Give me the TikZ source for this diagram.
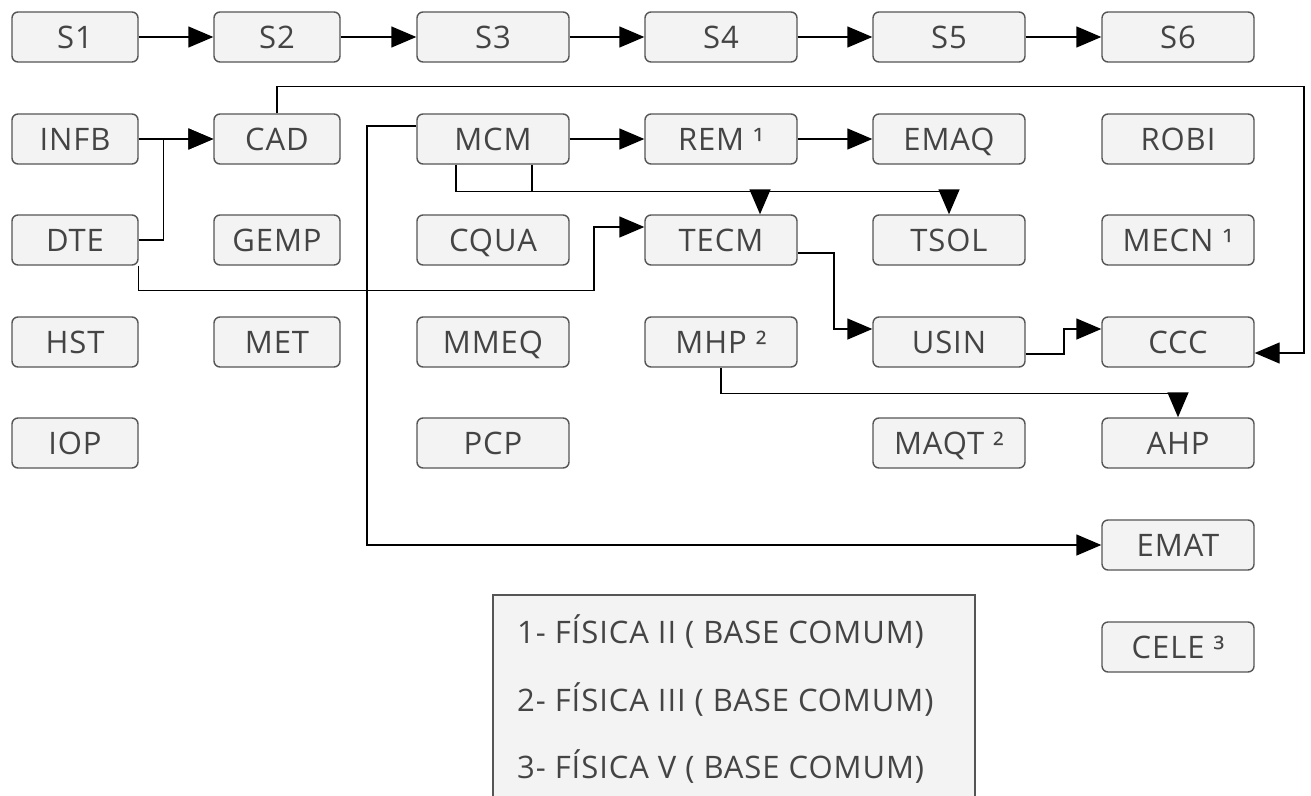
\documentclass[tikz,border=0pt]{standalone}
\usepackage{fontspec}
\setmainfont{Open Sans}[LetterSpace=3]
\usetikzlibrary{arrows.meta}
\definecolor{boxfill}{HTML}{F3F3F3}
\definecolor{boxline}{HTML}{555555}
\definecolor{txt}{HTML}{444444}
\tikzset{
  box/.style={draw=boxline, fill=boxfill, rounded corners=6pt, line width=1.4pt,
    minimum height=50pt, inner sep=0pt, text=txt, text height=22pt, text depth=0pt,
    font=\fontsize{31}{36}\selectfont},
  nar/.style={box, minimum width=126pt},
  wid/.style={box, minimum width=152pt},
  arr/.style={line width=1.4pt, draw=black, -{Triangle[length=25pt,width=21pt]}},
  legtext/.style={anchor=west, inner sep=0pt, text=txt, text height=22pt, text depth=0pt,
    font=\fontsize{31}{36}\selectfont}
}
\begin{document}
\begin{tikzpicture}[x=1pt,y=-1pt]
\useasboundingbox[fill=white] (0,0) rectangle (1311,795);
% row 1
\node[nar] (S1) at (75,37) {S1};
\node[nar] (S2) at (277,37) {S2};
\node[wid] (S3) at (493,37) {S3};
\node[wid] (S4) at (721,37) {S4};
\node[wid] (S5) at (949,37) {S5};
\node[wid] (S6) at (1178,37) {S6};
% row 2
\node[nar] (INFB) at (75,139) {INFB};
\node[nar] (CAD) at (277,139) {CAD};
\node[wid] (MCM) at (493,139) {MCM};
\node[wid] (REM) at (721,139) {REM ¹};
\node[wid] (EMAQ) at (949,139) {EMAQ};
\node[wid] (ROBI) at (1178,139) {ROBI};
% row 3
\node[nar] (DTE) at (75,240) {DTE};
\node[nar] (GEMP) at (277,240) {GEMP};
\node[wid] (CQUA) at (493,240) {CQUA};
\node[wid] (TECM) at (721,240) {TECM};
\node[wid] (TSOL) at (949,240) {TSOL};
\node[wid] (MECN) at (1178,240) {MECN ¹};
% row 4
\node[nar] (HST) at (75,342) {HST};
\node[nar] (MET) at (277,342) {MET};
\node[wid] (MMEQ) at (493,342) {MMEQ};
\node[wid] (MHP) at (721,342) {MHP ²};
\node[wid] (USIN) at (949,342) {USIN};
\node[wid] (CCC) at (1178,342) {CCC};
% row 5
\node[nar] (IOP) at (75,443) {IOP};
\node[wid] (PCP) at (493,443) {PCP};
\node[wid] (MAQT) at (949,443) {MAQT ²};
\node[wid] (AHP) at (1178,443) {AHP};
% rows 6,7
\node[wid] (EMAT) at (1178,545) {EMAT};
\node[wid] (CELE) at (1178,647) {CELE ³};
% legend
\fill[boxfill] (493,595) rectangle (975,800);
\draw[boxline, line width=1.4pt] (493,800) -- (493,595) -- (975,595) -- (975,800);
\node[legtext] (L1) at (517,632) {1- FÍSICA II ( BASE COMUM)};
\node[legtext] (L2) at (517,700) {2- FÍSICA III ( BASE COMUM)};
\node[legtext] (L3) at (517,767) {3- FÍSICA V ( BASE COMUM)};
% connectors
\draw[arr] (S1) -- (S2);
\draw[arr] (S2) -- (S3);
\draw[arr] (S3) -- (S4);
\draw[arr] (S4) -- (S5);
\draw[arr] (S5) -- (S6);
\draw[arr] (INFB) -- (CAD);
\draw[arr] (DTE.east) -- ++(25,0) |- (CAD.west);
\draw[arr] (DTE.south east) -- ++(0,25) -| (594,227) -- ([yshift=13pt]TECM.west);
\draw[arr] (CAD.north) -- ++(0,-27) -| (1304,353) -- ([yshift=-11pt]CCC.east);
\draw[arr] ([yshift=13pt]MCM.west) -- (367,126) |- (EMAT.west);
\draw[arr] (MCM) -- (REM);
\draw[arr] (REM) -- (EMAQ);
\draw[arr] ([xshift=-37pt]MCM.south) -- ++(0,27) -| ([xshift=39pt]TECM.north);
\draw[arr] ([xshift=39pt]MCM.south) -- ++(0,27) -| (TSOL.north);
\draw[arr] ([yshift=-13pt]TECM.east) -- (834,253) |- ([yshift=13pt]USIN.west);
\draw[arr] ([yshift=-12pt]USIN.east) -- (1064,354) |- ([yshift=13pt]CCC.west);
\draw[arr] (MHP.south) -- ++(0,26) -| (AHP.north);
\end{tikzpicture}
\end{document}
